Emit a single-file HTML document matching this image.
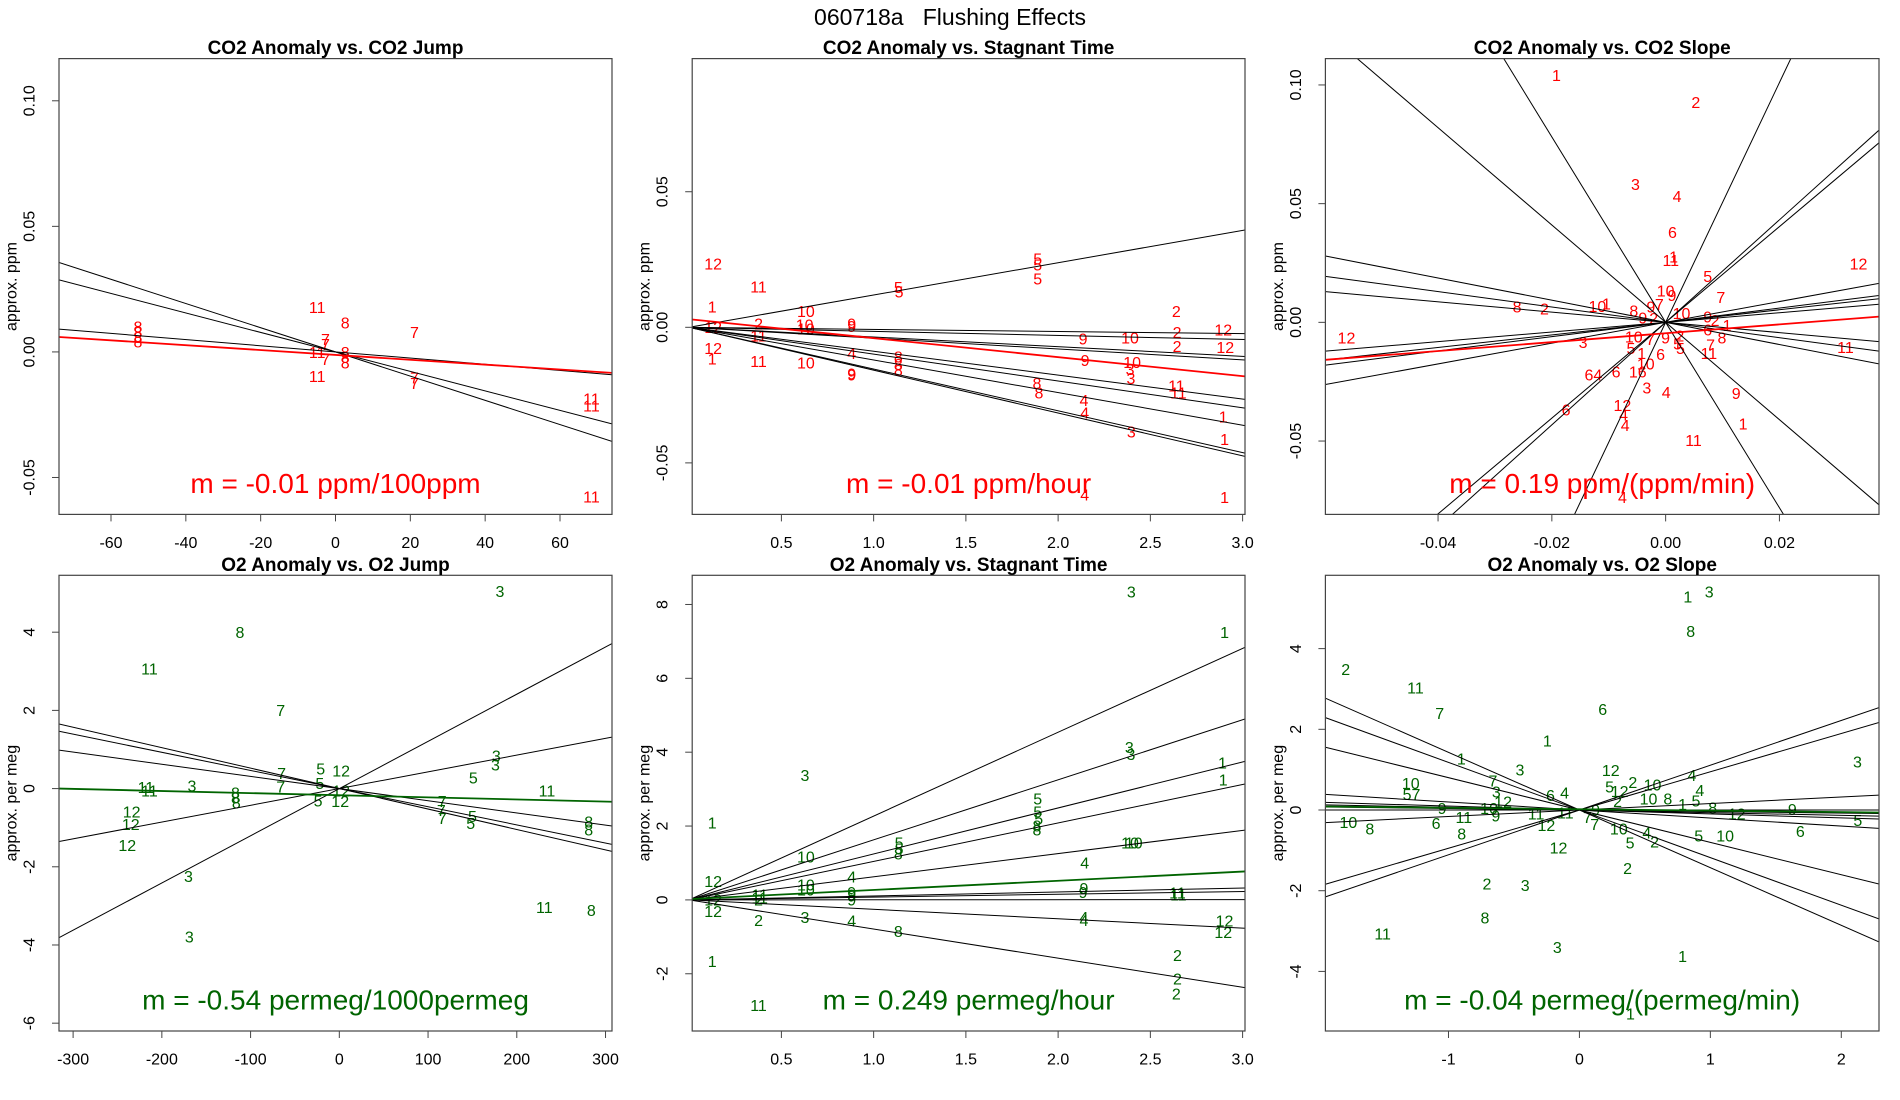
<!DOCTYPE html>
<html><head><meta charset="utf-8"><title>060718a Flushing Effects</title>
<style>
html,body{margin:0;padding:0;background:#fff;}
svg{display:block;font-family:"Liberation Sans",Arial,sans-serif;}
</style></head>
<body>
<svg id="chart" width="1900" height="1100" viewBox="0 0 1900 1100" xmlns="http://www.w3.org/2000/svg">
<rect x="0" y="0" width="1900" height="1100" fill="#fff"/>
<text x="950" y="17" font-size="23" text-anchor="middle" dominant-baseline="central" fill="#000" xml:space="preserve">060718a   Flushing Effects</text>
</svg>
<script>
// ---------- Panel A: CO2 Anomaly vs CO2 Jump ----------
const aLabels = ["11","8","7","8","8","8","8","7","7","7","11","8","8","8","11","7","7","11","11","11"];
const aX = [-4.9,2.6,21.1,-52.8,-52.8,-52.8,-52.8,-2.7,-2.7,-2.7,-4.9,2.6,2.6,2.6,-4.9,21.1,21.1,68.4,68.4,68.4];
const aY = [0.0172,0.0111,0.0074,0.0095,0.0074,0.0053,0.0035,0.0046,0.0025,-0.0034,-0.0006,-0.0007,-0.0027,-0.0049,-0.0101,-0.0108,-0.0129,-0.0191,-0.0219,-0.0582];
const aSlopes = [-0.000482,-0.000388,-0.000123];
const aFit = [-0.0000968,-0.0012];
const aXTicks = [-60,-40,-20,0,20,40,60];
const aXTickLabels = ["-60","-40","-20","0","20","40","60"];
const aYTicks = [-0.05,0,0.05,0.10];
const aYTickLabels = ["-0.05","0.00","0.05","0.10"];

// ---------- Panel B: O2 Anomaly vs O2 Jump ----------
const bLabels = ["3","8","11","7","3","3","5","5","12","7","7","5","12","12","5","11","11","3","8","8","8","12","12","12","11","7","7","7","5","5","8","8","3","11","8","3"];
const bX = [181,-112,-214,-66,177,176,151,-21,2,-65,-66,-22,2,1,-24,-218,-214,-166,-117,-117,-116,-234,-235,-239,234,116,115,116,150,148,281,281,-170,231,284,-169];
const bY = [5.01,3.97,3.03,1.97,0.81,0.58,0.25,0.47,0.43,0.36,0.02,0.11,-0.09,-0.36,-0.34,0,-0.09,0.04,-0.14,-0.27,-0.40,-0.63,-0.94,-1.48,-0.09,-0.36,-0.58,-0.79,-0.74,-0.92,-0.88,-1.08,-2.27,-3.07,-3.14,-3.82];
const bSlopes = [0.01207,0.00428,-0.00523,-0.00464,-0.00311];
const bFit = [-0.00054,-0.17];
const bXTicks = [-300,-200,-100,0,100,200,300];
const bXTickLabels = ["-300","-200","-100","0","100","200","300"];
const bYTicks = [-6,-4,-2,0,2,4];
const bYTickLabels = ["-6","-4","-2","0","2","4"];

// ---------- Panel C: CO2 Anomaly vs Stagnant Time ----------
const cLabels = ["12","11","1","10","5","5","5","5","5","2","12","2","11","10","10","9","9","12","1","11","10","4","9","9","8","8","8","9","9","10","10","3","3","2","2","12","12","8","8","11","11","4","4","1","1","3","4","1"];
const cX = [0.130,0.376,0.125,0.633,1.889,1.889,1.889,1.134,1.138,2.641,0.130,0.376,0.376,0.626,0.633,0.881,0.881,0.130,0.125,0.376,0.633,0.881,0.881,0.881,1.134,1.134,1.134,2.135,2.146,2.39,2.401,2.39,2.395,2.645,2.645,2.895,2.906,1.885,1.896,2.641,2.652,2.14,2.144,2.895,2.902,2.397,2.144,2.902];
const cY = [0.0229,0.0145,0.0071,0.0054,0.0249,0.0227,0.0175,0.0143,0.0126,0.0054,-0.0004,0.0009,-0.0036,0.0005,-0.001,0.0009,0,-0.0082,-0.0121,-0.013,-0.0136,-0.0101,-0.0175,-0.0179,-0.0114,-0.014,-0.0163,-0.0047,-0.0127,-0.0043,-0.0133,-0.0159,-0.0192,-0.0023,-0.0075,-0.0014,-0.0079,-0.0211,-0.0246,-0.022,-0.0246,-0.0273,-0.0319,-0.0334,-0.0418,-0.0389,-0.0622,-0.0632];
const cSlopes = [0.01191,-0.00077,-0.0015,-0.00357,-0.0040,-0.00882,-0.0099,-0.01204,-0.0154,-0.0158];
const cFit = [-0.0070,0.003];
const cXTicks = [0.5,1.0,1.5,2.0,2.5,3.0];
const cXTickLabels = ["0.5","1.0","1.5","2.0","2.5","3.0"];
const cYTicks = [-0.05,0,0.05];
const cYTickLabels = ["-0.05","0.00","0.05"];

// ---------- Panel D: O2 Anomaly vs Stagnant Time ----------
const dLabels = ["3","1","3","3","3","1","1","5","5","5","8","8","1","5","5","8","10","10","10","4","12","10","10","4","9","9","9","11","11","9","9","11","11","12","12","2","2","3","4","8","4","4","12","12","2","2","2","1","11"];
const dX = [2.397,2.902,0.628,2.386,2.395,2.891,2.895,1.889,1.889,1.895,1.885,1.885,0.125,1.138,1.138,1.134,2.39,2.41,0.633,2.144,0.13,0.633,0.633,0.881,0.881,0.881,0.881,0.382,0.382,2.14,2.135,2.647,2.652,0.13,0.13,0.376,0.376,0.628,0.881,1.134,2.14,2.14,2.902,2.895,2.647,2.647,2.641,0.125,0.376];
const dY = [8.31,7.21,3.34,4.10,3.91,3.68,3.22,2.71,2.35,2.16,1.97,1.87,2.06,1.51,1.35,1.21,1.51,1.51,1.13,0.97,0.47,0.37,0.24,0.59,0.18,0.11,-0.03,0.11,0.02,0.28,0.18,0.16,0.11,-0.03,-0.34,-0.03,-0.58,-0.5,-0.6,-0.88,-0.5,-0.58,-0.6,-0.91,-1.53,-2.17,-2.57,-1.69,-2.88];
const dSlopes = [2.27,1.626,1.245,1.042,0.627,0.107,0.076,0.003,-0.255,-0.789];
const dFit = [0.249,0.02];
const dXTicks = [0.5,1.0,1.5,2.0,2.5,3.0];
const dXTickLabels = ["0.5","1.0","1.5","2.0","2.5","3.0"];
const dYTicks = [-2,0,2,4,6,8];
const dYTickLabels = ["-2","0","2","4","6","8"];

// ---------- Panel E: CO2 Anomaly vs CO2 Slope ----------
const eLabels = ["1","2","3","4","6","1","11","12","5","7","10","9","8","2","10","1","8","9","7","12","3","9","2","10","9","2","1","8","6","7","11","11","10","7","9","5","5","5","1","6","10","16","6","64","3","4","9","12","4","4","6","1","11","4","2"];
const eX = [-0.0192,0.0053,-0.0053,0.002,0.0012,0.0014,0.0009,0.0339,0.0074,0.0097,0,0.0011,-0.0261,-0.0213,-0.012,-0.0104,-0.0056,-0.0026,-0.0011,-0.0561,-0.0145,-0.004,-0.0021,0.0028,0.0074,0.0087,0.0108,0.0099,0.0074,0.0079,0.0076,0.0316,-0.0056,-0.0027,0,0.0021,0.0026,-0.0061,-0.0042,-0.0009,-0.0035,-0.0049,-0.0087,-0.0127,-0.0033,0.0001,0.0124,-0.0076,-0.0074,-0.0071,-0.0175,0.0136,0.0049,-0.0076,0.0025];
const eY = [0.1036,0.0922,0.0577,0.0525,0.0374,0.0271,0.0256,0.0241,0.0189,0.0101,0.0127,0.0108,0.0061,0.0053,0.0062,0.0074,0.0044,0.0061,0.0071,-0.007,-0.0089,0.0015,0.0012,0.0034,0.0019,0.0004,-0.0018,-0.007,-0.0037,-0.0099,-0.0136,-0.0111,-0.0065,-0.0077,-0.007,-0.0095,-0.0114,-0.0114,-0.0136,-0.0139,-0.018,-0.0213,-0.0214,-0.0225,-0.0281,-0.0299,-0.0303,-0.0354,-0.0395,-0.0439,-0.0373,-0.0432,-0.0501,-0.0743,-0.0062];
const eSlopes = [-2.05,-3.905,5.05,2.017,2.159,-0.467,-0.324,-0.216,0.438,0.301,0.265,0.203];
const eFit = [0.187,-0.0046];
const eXTicks = [-0.04,-0.02,0,0.02];
const eXTickLabels = ["-0.04","-0.02","0.00","0.02"];
const eYTicks = [-0.05,0,0.05,0.10];
const eYTickLabels = ["-0.05","0.00","0.05","0.10"];

// ---------- Panel F: O2 Anomaly vs O2 Slope ----------
const fLabels = ["1","3","8","2","11","7","6","1","3","1","3","12","4","2","10","5","12","4","10","57","7","3","6","4","12","10","9","9","10","8","1","5","8","12","9","5","6","10","5","4","2","5","10","7","7","9","2","11","11","12","12","11","8","6","10","8","2","2","3","8","11","3","1","1"];
const fX = [0.828,0.991,0.85,-1.785,-1.252,-1.067,0.178,-0.245,2.123,-0.902,-0.454,0.239,0.859,0.408,0.558,0.23,0.307,0.92,-1.288,-1.282,-0.66,-0.635,-0.221,-0.113,-0.583,-0.69,-0.638,-1.049,0.528,0.675,0.788,0.89,1.018,1.202,1.626,2.126,1.687,1.113,0.911,0.515,0.574,0.387,0.301,0.061,0.117,0.123,0.291,-0.331,-0.107,-0.252,-0.16,-0.883,-0.899,-1.095,-1.764,-1.601,0.368,-0.706,-0.414,-0.721,-1.503,-0.169,0.788,0.39];
const fY = [5.25,5.38,4.4,3.46,3.0,2.37,2.47,1.69,1.17,1.24,0.97,0.95,0.83,0.66,0.6,0.55,0.44,0.46,0.63,0.36,0.7,0.42,0.33,0.4,0.17,0.01,-0.17,0.01,0.25,0.25,0.11,0.2,0.03,-0.12,-0.01,-0.28,-0.56,-0.67,-0.67,-0.6,-0.82,-0.84,-0.5,-0.21,-0.38,-0.03,0.18,-0.12,-0.1,-0.41,-0.97,-0.21,-0.62,-0.36,-0.34,-0.49,-1.47,-1.86,-1.9,-2.7,-3.1,-3.43,-3.66,-5.08];
const fSlopes = [-1.429,-1.18,-0.802,-0.199,-0.097,-0.066,-0.038,0,0.161,0.948,1.11];
const fFit = [-0.035,0.019];
const fXTicks = [-1,0,1,2];
const fXTickLabels = ["-1","0","1","2"];
const fYTicks = [-4,-2,0,2,4];
const fYTickLabels = ["-4","-2","0","2","4"];

const RED = "#ff0000", GREEN = "#006400";
const NS = "http://www.w3.org/2000/svg";
const svg = document.getElementById("chart");

const panels = [
 {id:"co2-jump", title:"CO2 Anomaly vs. CO2 Jump", ylab:"approx. ppm", color:RED, note:"m = -0.01 ppm/100ppm",
  box:[59,612,58.6,514.4], xd:[-73.9,73.9], yd:[-0.0647,0.1168],
  labels:aLabels, xs:aX, ys:aY, slopes:aSlopes, fit:aFit, xt:aXTicks, xtl:aXTickLabels, yt:aYTicks, ytl:aYTickLabels},
 {id:"co2-stagnant", title:"CO2 Anomaly vs. Stagnant Time", ylab:"approx. ppm", color:RED, note:"m = -0.01 ppm/hour",
  box:[692.2,1245,58.6,514.4], xd:[0.0165,3.013], yd:[-0.069,0.0991],
  labels:cLabels, xs:cX, ys:cY, slopes:cSlopes, fit:cFit, xt:cXTicks, xtl:cXTickLabels, yt:cYTicks, ytl:cYTickLabels},
 {id:"co2-slope", title:"CO2 Anomaly vs. CO2 Slope", ylab:"approx. ppm", color:RED, note:"m = 0.19 ppm/(ppm/min)",
  box:[1325.4,1879,58.6,514.4], xd:[-0.0598,0.0375], yd:[-0.0809,0.1111],
  labels:eLabels, xs:eX, ys:eY, slopes:eSlopes, fit:eFit, xt:eXTicks, xtl:eXTickLabels, yt:eYTicks, ytl:eYTickLabels},
 {id:"o2-jump", title:"O2 Anomaly vs. O2 Jump", ylab:"approx. per meg", color:GREEN, note:"m = -0.54 permeg/1000permeg",
  box:[59,612,575.3,1031], xd:[-315.9,307.3], yd:[-6.2,5.455],
  labels:bLabels, xs:bX, ys:bY, slopes:bSlopes, fit:bFit, xt:bXTicks, xtl:bXTickLabels, yt:bYTicks, ytl:bYTickLabels},
 {id:"o2-stagnant", title:"O2 Anomaly vs. Stagnant Time", ylab:"approx. per meg", color:GREEN, note:"m = 0.249 permeg/hour",
  box:[692.2,1245,575.3,1031], xd:[0.0165,3.013], yd:[-3.55,8.79],
  labels:dLabels, xs:dX, ys:dY, slopes:dSlopes, fit:dFit, xt:dXTicks, xtl:dXTickLabels, yt:dYTicks, ytl:dYTickLabels},
 {id:"o2-slope", title:"O2 Anomaly vs. O2 Slope", ylab:"approx. per meg", color:GREEN, note:"m = -0.04 permeg/(permeg/min)",
  box:[1325.4,1879,575.3,1031], xd:[-1.94,2.288], yd:[-5.477,5.817],
  labels:fLabels, xs:fX, ys:fY, slopes:fSlopes, fit:fFit, xt:fXTicks, xtl:fXTickLabels, yt:fYTicks, ytl:fYTickLabels}
];

function mk(tag, attrs, parent){
  const el = document.createElementNS(NS, tag);
  for (const k in attrs) el.setAttribute(k, attrs[k]);
  (parent||svg).appendChild(el);
  return el;
}

panels.forEach(function(p){
  const x0=p.box[0], x1=p.box[1], y0=p.box[2], y1=p.box[3];
  const sx = v => x0 + (v - p.xd[0])/(p.xd[1]-p.xd[0])*(x1-x0);
  const sy = v => y1 - (v - p.yd[0])/(p.yd[1]-p.yd[0])*(y1-y0);
  const g = mk("g", {});
  
  

  const clip = mk("clipPath", {id:"clip-"+p.id}, g);
  mk("rect", {x:x0, y:y0, width:x1-x0, height:y1-y0}, clip);
  const inner = mk("g", {"clip-path":"url(#clip-"+p.id+")"}, g);
  
  

  // point labels
  p.labels.forEach(function(lab, i){
    const t = mk("text", {x:sx(p.xs[i]), y:sy(p.ys[i]), "font-size":16, fill:p.color, "text-anchor":"middle", "dominant-baseline":"central"}, inner);
    t.textContent = lab;
    
    
  });
  // regression lines through origin
  p.slopes.forEach(function(m, i){
    const l = mk("line", {x1:sx(p.xd[0]), y1:sy(m*p.xd[0]), x2:sx(p.xd[1]), y2:sy(m*p.xd[1]), stroke:"#000", "stroke-width":1}, inner);
    
    
  });
  // overall fit
  const fl = mk("line", {x1:sx(p.xd[0]), y1:sy(p.fit[1]+p.fit[0]*p.xd[0]), x2:sx(p.xd[1]), y2:sy(p.fit[1]+p.fit[0]*p.xd[1]), stroke:p.color, "stroke-width":1.8}, inner);
  
  

  // annotation
  const note = mk("text", {x:(x0+x1)/2, y:y1-31, "font-size":28, fill:p.color, "text-anchor":"middle", "dominant-baseline":"central"}, g);
  note.textContent = p.note;
  
  

  // box
  const bx = mk("rect", {x:x0, y:y0, width:x1-x0, height:y1-y0, fill:"none", stroke:"#444", "stroke-width":1.2}, g);
  
  

  // x ticks
  p.xt.forEach(function(v, i){
    const X = sx(v);
    const tk = mk("line", {x1:X, y1:y1, x2:X, y2:y1+7, stroke:"#444", "stroke-width":1}, g);
    
    
    const tl = mk("text", {x:X, y:y1+29, "font-size":16, fill:"#000", "text-anchor":"middle", "dominant-baseline":"central"}, g);
    tl.textContent = p.xtl[i];
    
    
  });
  // y ticks
  p.yt.forEach(function(v, i){
    const Y = sy(v);
    const tk = mk("line", {x1:x0-7, y1:Y, x2:x0, y2:Y, stroke:"#444", "stroke-width":1}, g);
    
    
    const tx = x0-29;
    const tl = mk("text", {x:tx, y:Y, "font-size":16, fill:"#000", "text-anchor":"middle", "dominant-baseline":"central", transform:"rotate(-90 "+tx+" "+Y+")"}, g);
    tl.textContent = p.ytl[i];
    
    
  });
  // y axis title
  const ax = x0-47, ay = (y0+y1)/2;
  const yt = mk("text", {x:ax, y:ay, "font-size":16, fill:"#000", "text-anchor":"middle", "dominant-baseline":"central", transform:"rotate(-90 "+ax+" "+ay+")"}, g);
  yt.textContent = p.ylab;
  
  
  // panel title
  const tt = mk("text", {x:(x0+x1)/2, y:y0-10, "font-size":19, "font-weight":"bold", fill:"#000", "text-anchor":"middle", "dominant-baseline":"central"}, g);
  tt.textContent = p.title;
  
  
});
</script>
</body></html>
